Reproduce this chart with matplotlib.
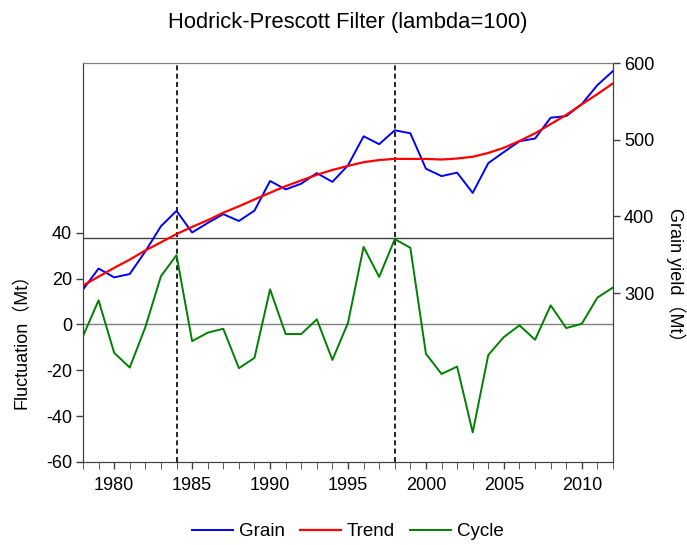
import matplotlib
import matplotlib.pyplot as plt
from matplotlib.ticker import MultipleLocator

matplotlib.use("Agg")

plt.rcParams["font.family"] = ["Liberation Sans", "Noto Sans CJK SC", "DejaVu Sans"]
plt.rcParams["axes.unicode_minus"] = False

years = list(range(1978, 2013))
grain = [304.8, 332.1, 320.6, 325.0, 354.5, 387.3, 407.3, 379.1, 391.5, 403.0,
         394.1, 407.6, 446.2, 435.3, 442.7, 456.5, 445.1, 466.6, 504.5, 494.2,
         512.3, 508.4, 462.2, 452.6, 457.1, 430.7, 469.5, 484.0, 498.0, 501.6,
         528.7, 530.8, 546.5, 571.2, 589.6]
trend = [309.9, 321.6, 333.0, 343.8, 355.7, 366.3, 377.1, 386.4, 395.1, 404.9,
         413.2, 422.2, 430.9, 439.5, 446.9, 454.3, 460.6, 465.9, 470.7, 473.5,
         475.1, 475.0, 475.0, 474.2, 475.5, 477.8, 482.8, 489.5, 498.4, 508.3,
         520.4, 532.4, 546.2, 559.5, 573.5]
cycle = [-5.1, 10.5, -12.4, -18.8, -1.2, 21.0, 30.2, -7.3, -3.6, -1.9,
         -19.1, -14.6, 15.3, -4.2, -4.2, 2.2, -15.5, 0.7, 33.8, 20.7,
         37.2, 33.4, -12.8, -21.6, -18.4, -47.1, -13.3, -5.5, -0.4, -6.7,
         8.3, -1.6, 0.3, 11.7, 16.1]
break_years = [1984, 1998]
cycle_peak = 37.5

fig = plt.figure(figsize=(6.87, 5.45), dpi=100)
ax = fig.add_axes([0.1208, 0.1523, 0.7715, 0.7321])
ax2 = ax.twinx()

ax.axhline(cycle_peak, color="#404040", linewidth=1.0)
ax.axhline(0, color="#808080", linewidth=1.0)
for yr in break_years:
    ax.axvline(yr, color="black", linestyle=(0, (3, 2)), linewidth=1.2)

l3, = ax.plot(years, cycle, color="#008000", linewidth=1.4, label="Cycle")
l1, = ax2.plot(years, grain, color="#0000ff", linewidth=1.4, label="Grain")
l2, = ax2.plot(years, trend, color="#ff0000", linewidth=1.6, label="Trend")

ax.set_xlim(1978, 2012)
ax.set_ylim(-60, 114)
ax.set_yticks(range(-60, 41, 20))
ax2.set_ylim(80, 600)
ax2.set_yticks(range(300, 601, 100))
ax.xaxis.set_major_locator(MultipleLocator(5))
ax.xaxis.set_minor_locator(MultipleLocator(1))

for a in (ax, ax2):
    for s in a.spines.values():
        s.set_color("#404040")
    a.spines["top"].set_color("#808080")
    a.tick_params(direction="out", length=5, width=1, color="#404040",
                  labelsize=13, pad=3)
ax.tick_params(axis="x", which="minor", direction="out", length=5, color="#404040")
ax.tick_params(axis="x", pad=6)

ax.set_ylabel("Fluctuation（Mt）", fontsize=13)
ax.yaxis.set_label_coords(-0.098, 0.313)
ax2.set_ylabel("Grain yield（Mt）", fontsize=13, rotation=270, va="bottom")
ax2.yaxis.set_label_coords(1.100, 0.457)

fig.suptitle("Hodrick-Prescott Filter (lambda=100)", fontsize=15.8, x=0.506, y=0.978)

fig.legend(handles=[l1, l2, l3], loc="center", bbox_to_anchor=(0.506, 0.024),
           ncol=3, frameon=False, fontsize=13.5, handlelength=2.2,
           columnspacing=0.8, handletextpad=0.3)

fig.savefig("out.png", dpi=100)
